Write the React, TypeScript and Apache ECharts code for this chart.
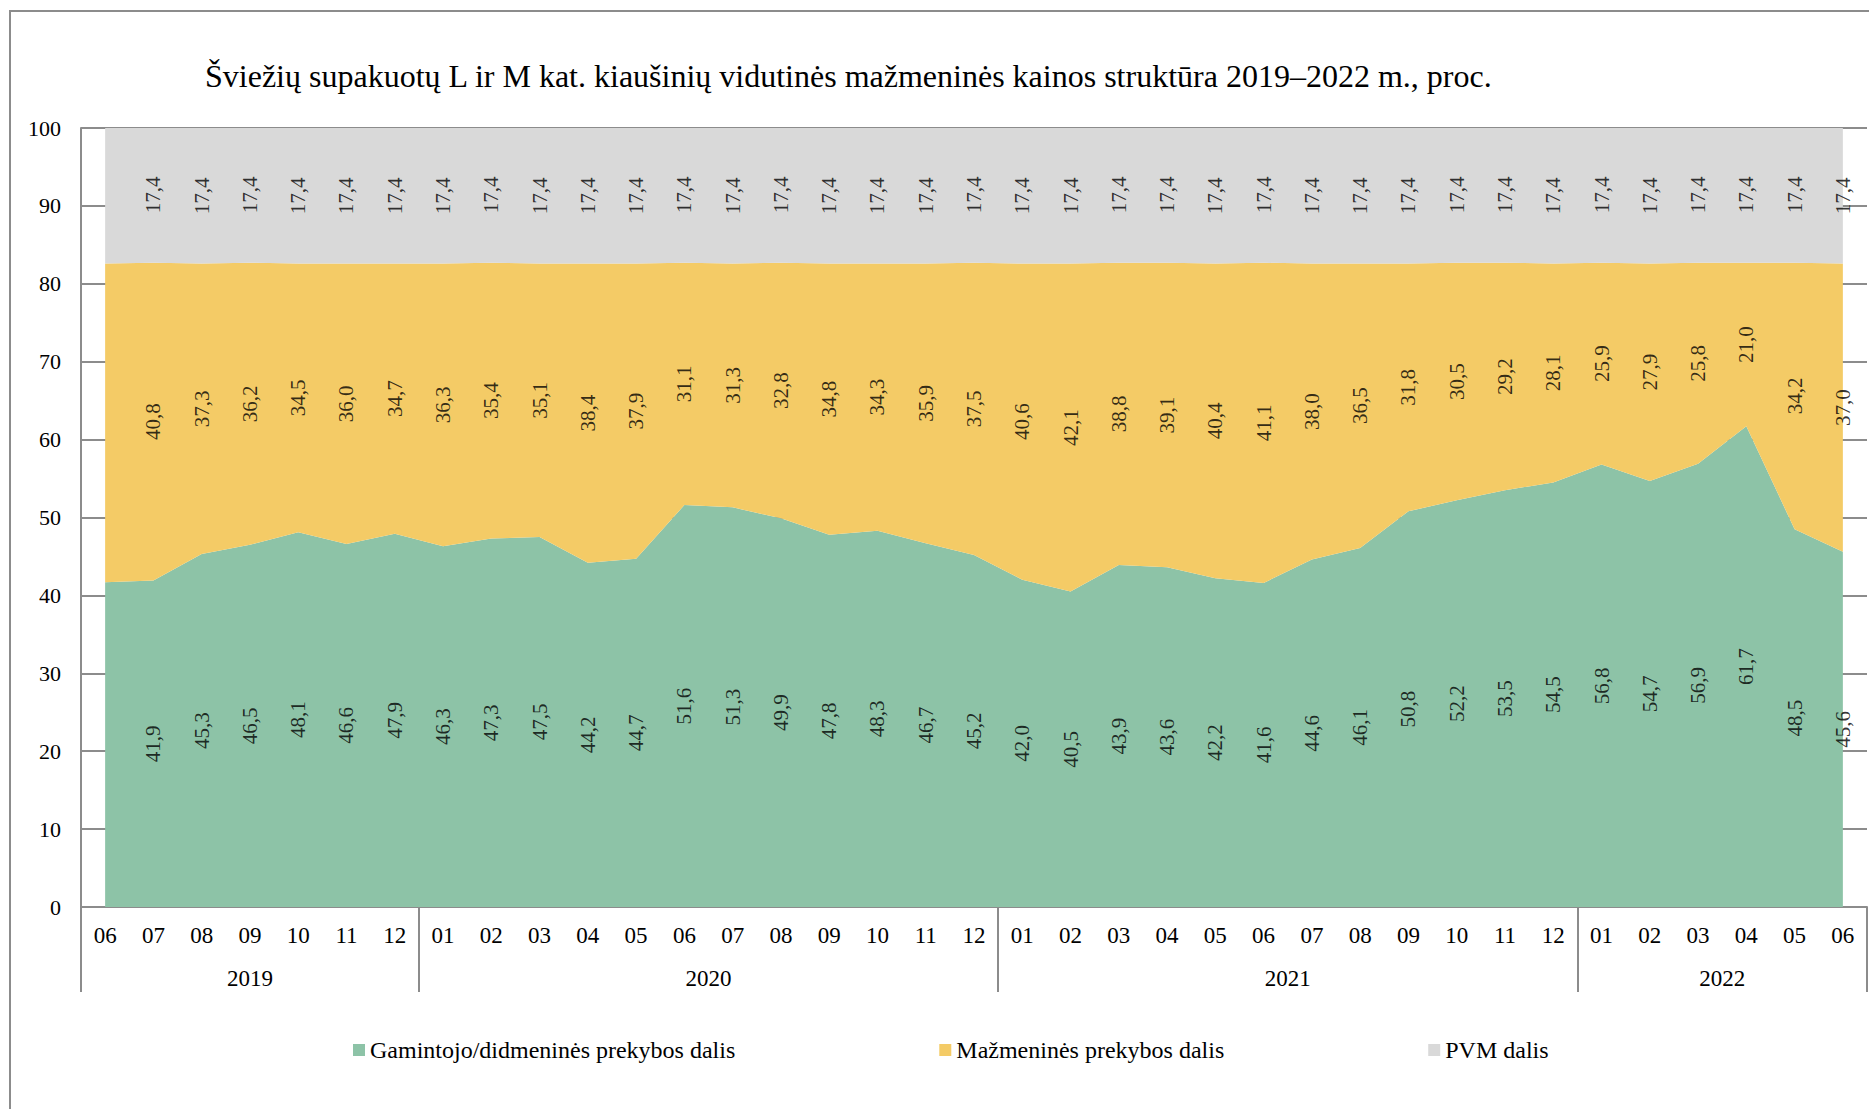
import React, { useEffect, useRef } from "react";
import * as echarts from "echarts";

const monthLabels = [
  "06", "07", "08", "09", "10", "11", "12",
  "01", "02", "03", "04", "05", "06", "07", "08", "09", "10", "11", "12",
  "01", "02", "03", "04", "05", "06", "07", "08", "09", "10", "11", "12",
  "01", "02", "03", "04", "05", "06",
];
const yearLabels = ["2019", "2020", "2021", "2022"];
const yearSizes = [7, 12, 12, 6];

const producerShare = [
  41.7, 41.9, 45.3, 46.5, 48.1, 46.6, 47.9,
  46.3, 47.3, 47.5, 44.2, 44.7, 51.6, 51.3, 49.9, 47.8, 48.3, 46.7, 45.2,
  42.0, 40.5, 43.9, 43.6, 42.2, 41.6, 44.6, 46.1, 50.8, 52.2, 53.5, 54.5,
  56.8, 54.7, 56.9, 61.7, 48.5, 45.6,
];
const retailShare = [
  40.9, 40.8, 37.3, 36.2, 34.5, 36.0, 34.7,
  36.3, 35.4, 35.1, 38.4, 37.9, 31.1, 31.3, 32.8, 34.8, 34.3, 35.9, 37.5,
  40.6, 42.1, 38.8, 39.1, 40.4, 41.1, 38.0, 36.5, 31.8, 30.5, 29.2, 28.1,
  25.9, 27.9, 25.8, 21.0, 34.2, 37.0,
];
const vatShare = [
  17.4, 17.4, 17.4, 17.4, 17.4, 17.4, 17.4,
  17.4, 17.4, 17.4, 17.4, 17.4, 17.4, 17.4, 17.4, 17.4, 17.4, 17.4, 17.4,
  17.4, 17.4, 17.4, 17.4, 17.4, 17.4, 17.4, 17.4, 17.4, 17.4, 17.4, 17.4,
  17.4, 17.4, 17.4, 17.4, 17.4, 17.4,
];
// the first month carries no data labels in the source chart
const firstLabelledIndex = 1;

const seriesNames = [
  "Gamintojo/didmeninės prekybos dalis",
  "Mažmeninės prekybos dalis",
  "PVM dalis",
];
const colors = ["#8DC3A7", "#F4CB66", "#D9D9D9"];
const titleText =
  "Šviežių supakuotų L ir M kat. kiaušinių vidutinės mažmeninės kainos struktūra 2019–2022 m., proc.";

const FONT = "'Liberation Serif', 'Times New Roman', serif";
const GRAY = "#8c8c8c";

function fmt(v: number) {
  return v.toFixed(1).replace(".", ",");
}

export default function App() {
  const ref = useRef<HTMLDivElement>(null);

  useEffect(() => {
    if (!ref.current) return;
    const chart = echarts.init(ref.current, undefined, { renderer: "svg" });

    const bands = [producerShare, retailShare, vatShare];
    const labelSeries = bands.map((band, b) => ({
      type: "scatter",
      name: "lbl" + b,
      xAxisIndex: 0,
      yAxisIndex: 0,
      symbolSize: 0,
      silent: true,
      z: 5,
      data: band.map((v, i) => {
        if (i < firstLabelledIndex) return [i, "-", v];
        let base = 0;
        for (let k = 0; k < b; k++) base += bands[k][i];
        return [i, base + v / 2, v];
      }),
      label: {
        show: true,
        position: "inside",
        rotate: 90,
        color: "#000",
        fontFamily: FONT,
        fontSize: 21,
        formatter: (p: any) => fmt(p.value[2]),
      },
    }));

    const boundaries: number[] = [0];
    const centers: number[] = [];
    yearSizes.forEach((n) => {
      const start = boundaries[boundaries.length - 1];
      centers.push(start + n / 2);
      boundaries.push(start + n);
    });

    chart.setOption({
      animation: false,
      backgroundColor: "#fff",
      textStyle: { fontFamily: FONT },
      title: {
        text: titleText,
        left: 205,
        top: 60,
        padding: 0,
        textStyle: { fontFamily: FONT, fontSize: 32, fontWeight: "normal", color: "#000" },
      },
      graphic: [
        {
          type: "rect",
          shape: { x: 10, y: 11, width: 1900, height: 1200 },
          style: { fill: "none", stroke: GRAY, lineWidth: 2 },
          silent: true,
        },
      ],
      legend: {
        data: seriesNames,
        left: 348,
        top: 1033,
        itemGap: 204,
        itemWidth: 12,
        itemHeight: 12,
        icon: "rect",
        textStyle: { fontFamily: FONT, fontSize: 24, color: "#000" },
      },
      grid: { left: 81, right: 2, top: 128, bottom: 202, containLabel: false },
      xAxis: [
        {
          type: "category",
          data: monthLabels,
          boundaryGap: true,
          position: "bottom",
          axisLine: { show: true, lineStyle: { color: GRAY, width: 2 } },
          axisTick: { show: false },
          axisLabel: { color: "#000", fontFamily: FONT, fontSize: 23, margin: 17, interval: 0 },
          splitLine: { show: false },
        },
        {
          type: "value",
          min: 0,
          max: monthLabels.length,
          position: "bottom",
          axisLine: { show: false },
          splitLine: { show: false },
          axisTick: {
            show: true,
            customValues: boundaries,
            length: 85,
            lineStyle: { color: GRAY, width: 2 },
          },
          axisLabel: {
            show: true,
            customValues: centers,
            margin: 60,
            color: "#000",
            fontFamily: FONT,
            fontSize: 23,
            formatter: (v: number) => {
              const idx = centers.findIndex((c) => Math.abs(c - v) < 1e-6);
              return idx >= 0 ? yearLabels[idx] : "";
            },
          },
        },
      ],
      yAxis: {
        type: "value",
        min: 0,
        max: 100,
        interval: 10,
        axisLine: { show: true, lineStyle: { color: GRAY, width: 2 } },
        axisTick: { show: false },
        axisLabel: { color: "#000", fontFamily: FONT, fontSize: 22, margin: 20 },
        splitLine: { show: true, lineStyle: { color: GRAY, width: 2 } },
      },
      series: [
        ...bands.map((band, b) => ({
          type: "line",
          name: seriesNames[b],
          stack: "total",
          data: band,
          symbol: "none",
          lineStyle: { width: 0 },
          areaStyle: { color: colors[b], opacity: 1 },
          itemStyle: { color: colors[b] },
          z: 2,
        })),
        ...labelSeries,
      ],
    });

    return () => chart.dispose();
  }, []);

  return (
    <div
      ref={ref}
      style={{ position: "absolute", left: 0, top: 0, width: 1869, height: 1109 }}
    />
  );
}
